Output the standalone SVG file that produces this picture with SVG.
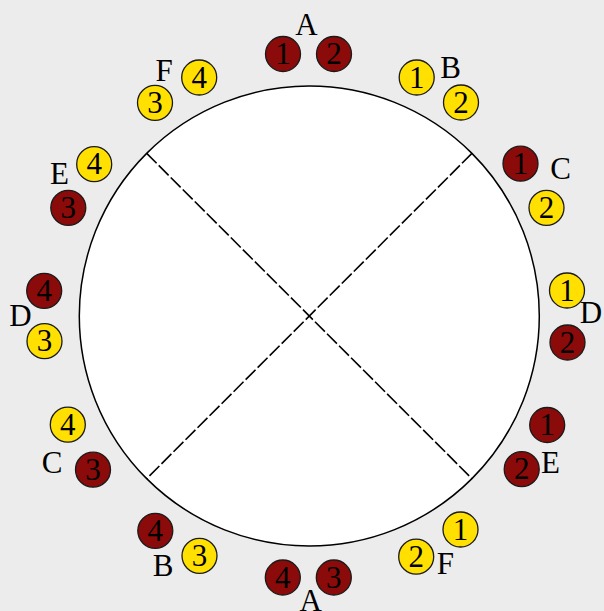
<svg xmlns="http://www.w3.org/2000/svg" width="604" height="611" viewBox="0 0 604 611">
<style>
text{font-family:"Liberation Serif","Times New Roman",serif;font-size:31px;fill:#000;text-anchor:middle}
.r{fill:#8b0a0a;stroke:#1a1a1a;stroke-width:1.3}
.y{fill:#ffe000;stroke:#1a1a1a;stroke-width:1.3}
.d{stroke:#000;stroke-width:1.6;stroke-dasharray:14,3;fill:none}
</style>
<rect width="604" height="611" fill="#ececec"/>
<g id="wheel">
<circle cx="309.3" cy="316" r="230" fill="#fff" stroke="#000" stroke-width="1.5"/>
</g>
<g id="connectors">
<line class="d" x1="146.7" y1="153.4" x2="471.9" y2="478.6"/>
<line class="d" x1="471.9" y1="153.4" x2="146.7" y2="478.6"/>
</g>
<g id="A-top"><text x="306.5" y="35">A</text>
<circle class="r" cx="283" cy="54" r="17.5"/><text x="283" y="64">1</text>
<circle class="r" cx="334" cy="54" r="17.5"/><text x="334" y="64">2</text></g>
<g id="B-top"><text x="450.5" y="78">B</text>
<circle class="y" cx="416.7" cy="77.5" r="17.5"/><text x="416.7" y="87.5">1</text>
<circle class="y" cx="461" cy="102.5" r="17.5"/><text x="461" y="112.5">2</text></g>
<g id="C-right"><text x="560.7" y="179">C</text>
<circle class="r" cx="520.5" cy="163.7" r="17.5"/><text x="520.5" y="173.7">1</text>
<circle class="y" cx="546.5" cy="207.8" r="17.5"/><text x="546.5" y="217.8">2</text></g>
<g id="D-right"><circle class="y" cx="567" cy="290.5" r="17.5"/><text x="567" y="300.5">1</text>
<circle class="r" cx="567.5" cy="342.5" r="17.5"/><text x="567.5" y="352.5">2</text>
<text x="591" y="322.5">D</text></g>
<g id="E-right"><circle class="r" cx="547.2" cy="425" r="17.5"/><text x="547.2" y="435">1</text>
<circle class="r" cx="521.7" cy="469.2" r="17.5"/><text x="521.7" y="479.2">2</text>
<text x="550.5" y="472.5">E</text></g>
<g id="F-right"><circle class="y" cx="460.5" cy="529.5" r="17.5"/><text x="460.5" y="539.5">1</text>
<circle class="y" cx="416.2" cy="556.7" r="17.5"/><text x="416.2" y="566.7">2</text>
<text x="445.3" y="574">F</text></g>
<g id="A-bottom"><circle class="r" cx="282.8" cy="577.5" r="17.5"/><text x="282.8" y="587.5">4</text>
<circle class="r" cx="333.8" cy="577.5" r="17.5"/><text x="333.8" y="587.5">3</text>
<text x="310.8" y="611">A</text></g>
<g id="B-bottom"><circle class="r" cx="155.3" cy="530.8" r="17.5"/><text x="155.3" y="540.8">4</text>
<circle class="y" cx="199.5" cy="555.8" r="17.5"/><text x="199.5" y="565.8">3</text>
<text x="163" y="576">B</text></g>
<g id="C-left"><circle class="y" cx="67.8" cy="424.7" r="17.5"/><text x="67.8" y="434.7">4</text>
<circle class="r" cx="93" cy="469.7" r="17.5"/><text x="93" y="479.7">3</text>
<text x="52" y="473">C</text></g>
<g id="D-left"><circle class="r" cx="44.2" cy="290.8" r="17.5"/><text x="44.2" y="300.8">4</text>
<circle class="y" cx="44.5" cy="341.2" r="17.5"/><text x="44.5" y="351.2">3</text>
<text x="20.5" y="326">D</text></g>
<g id="E-left"><circle class="y" cx="94.2" cy="164.2" r="17.5"/><text x="94.2" y="174.2">4</text>
<circle class="r" cx="68.3" cy="207.8" r="17.5"/><text x="68.3" y="217.8">3</text>
<text x="59.5" y="184">E</text></g>
<g id="F-left"><circle class="y" cx="199.2" cy="77.5" r="17.5"/><text x="199.2" y="87.5">4</text>
<circle class="y" cx="155" cy="102.8" r="17.5"/><text x="155" y="112.8">3</text>
<text x="164" y="81">F</text></g>
</svg>
